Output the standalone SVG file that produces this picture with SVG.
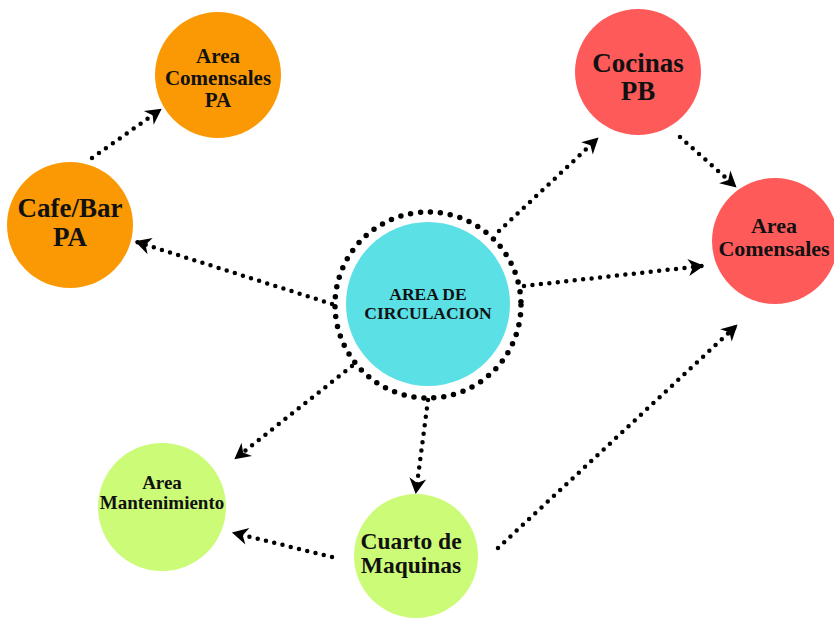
<svg xmlns="http://www.w3.org/2000/svg" width="834" height="618" viewBox="0 0 834 618">
<style>
.t{font-family:"Liberation Serif","Times New Roman",serif;font-weight:bold;fill:#111;text-anchor:middle}
.c{fill:none;stroke:#000;stroke-width:4.5;stroke-linecap:round;stroke-dasharray:0 8.5}
.ring{fill:none;stroke:#000;stroke-width:5.5;stroke-linecap:round;stroke-dasharray:0 10}
.or{fill:#FB9904}.rd{fill:#FE5A5A}.cy{fill:#5BE0E6}.gr{fill:#CCFB78}
</style>
<defs>
<marker id="ah" markerUnits="userSpaceOnUse" markerWidth="18" markerHeight="18" refX="14" refY="8" orient="auto" viewBox="0 0 17 16">
<path d="M1,0 L16,8 L1,16 L5.5,8 Z" fill="#000"/>
</marker>
</defs>
<rect width="834" height="618" fill="#fff"/>
<g id="center">
<circle class="cy" cx="428" cy="304" r="82"/>
<circle class="ring" cx="428" cy="305" r="93"/>
<text class="t" font-size="17.5"><tspan x="428" y="300">AREA DE</tspan><tspan x="428" y="319">CIRCULACION</tspan></text>
</g>
<g id="cafe">
<circle class="or" cx="70" cy="225" r="63"/>
<text class="t" font-size="27"><tspan x="70" y="217">Cafe/Bar</tspan><tspan x="70" y="246">PA</tspan></text>
</g>
<g id="comensalesPA">
<circle class="or" cx="218" cy="75" r="63"/>
<text class="t" font-size="21"><tspan x="218" y="63">Area</tspan><tspan x="218" y="85">Comensales</tspan><tspan x="218" y="107">PA</tspan></text>
</g>
<g id="cocinas">
<circle class="rd" cx="638" cy="72" r="63"/>
<text class="t" font-size="27"><tspan x="638" y="72">Cocinas</tspan><tspan x="638" y="100">PB</tspan></text>
</g>
<g id="comensales">
<circle class="rd" cx="775" cy="241" r="63"/>
<text class="t" font-size="22"><tspan x="774" y="233">Area</tspan><tspan x="774" y="256">Comensales</tspan></text>
</g>
<g id="mantenimiento">
<circle class="gr" cx="162" cy="507" r="64"/>
<text class="t" font-size="19"><tspan x="162" y="489">Area</tspan><tspan x="162" y="509">Mantenimiento</tspan></text>
</g>
<g id="cuarto">
<circle class="gr" cx="416" cy="556" r="62"/>
<text class="t" font-size="23.5"><tspan x="411" y="549">Cuarto de</tspan><tspan x="411" y="573">Maquinas</tspan></text>
</g>
<g id="connectors">
<line class="c" x1="92" y1="158" x2="160" y2="110" marker-end="url(#ah)"/>
<line class="c" x1="332" y1="304" x2="137" y2="242" marker-end="url(#ah)"/>
<line class="c" x1="499" y1="231" x2="597" y2="139" marker-end="url(#ah)"/>
<line class="c" x1="680" y1="137" x2="735" y2="186" marker-end="url(#ah)"/>
<line class="c" x1="524" y1="286" x2="702" y2="266" marker-end="url(#ah)"/>
<line class="c" x1="352" y1="366" x2="236" y2="458" marker-end="url(#ah)"/>
<line class="c" x1="428" y1="400" x2="416" y2="492" marker-end="url(#ah)"/>
<line class="c" x1="332" y1="557" x2="234" y2="533" marker-end="url(#ah)"/>
<line class="c" x1="498" y1="548" x2="736" y2="326" marker-end="url(#ah)"/>
</g>
</svg>
